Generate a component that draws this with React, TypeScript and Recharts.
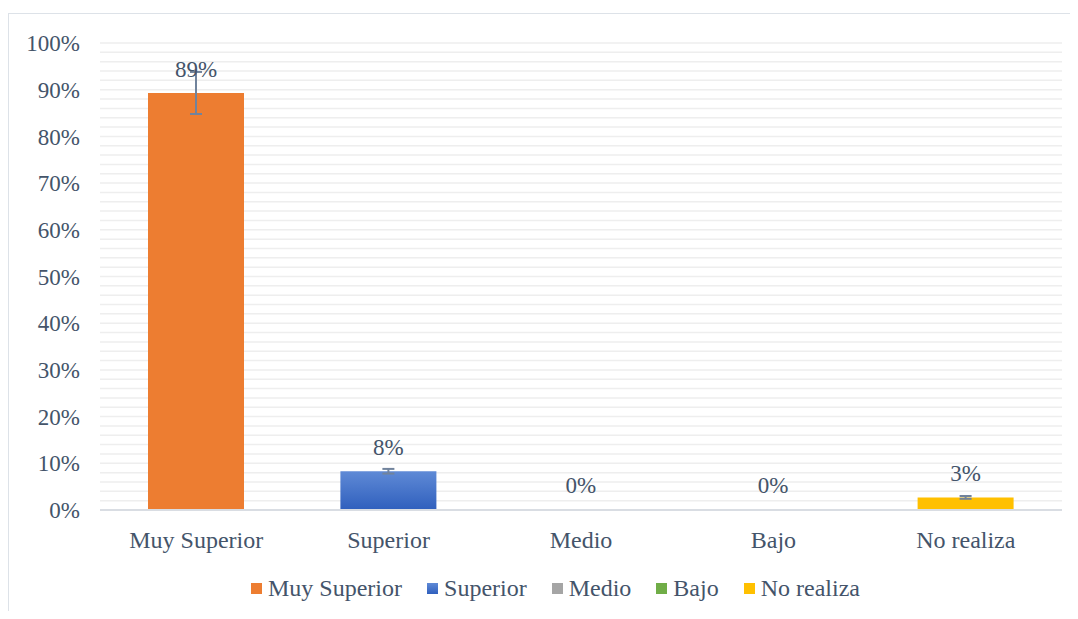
import { BarChart, Bar, Cell, XAxis, YAxis, CartesianGrid, LabelList, ErrorBar, Legend } from "recharts"

const categories = ["Muy Superior", "Superior", "Medio", "Bajo", "No realiza"]
const values = [89.3, 8.3, 0, 0, 2.7]
const errors = [4.5, 0.5, 0, 0, 0.3]
const colors = ["#ED7D31", "url(#blueGrad)", "#A5A5A5", "#70AD47", "#FFC000"]
const swatches = ["#ED7D31", "linear-gradient(#5f8ad6, #2f5fbd)", "#A5A5A5", "#70AD47", "#FFC000"]
const majorTicks = [0, 10, 20, 30, 40, 50, 60, 70, 80, 90, 100]
const gridTicks = [
  0, 2, 4, 6, 8, 10, 12, 14, 16, 18, 20, 22, 24, 26, 28, 30, 32, 34, 36, 38, 40, 42, 44, 46, 48, 50,
  52, 54, 56, 58, 60, 62, 64, 66, 68, 70, 72, 74, 76, 78, 80, 82, 84, 86, 88, 90, 92, 94, 96, 98, 100,
]

const data = categories.map((name, i) => ({ name, pct: values[i], err: [errors[i], errors[i]] }))

const TEXT = "#44546A"
const GRID = "#eeeeee"

function LegendContent() {
  return (
    <div
      style={{
        width: 1062,
        height: 24,
        paddingLeft: 33,
        boxSizing: "border-box",
        display: "flex",
        justifyContent: "center",
        alignItems: "center",
        gap: 25,
        fontSize: 24,
        color: TEXT,
      }}
    >
      {categories.map((c, i) => (
        <div key={c} style={{ display: "flex", alignItems: "center", gap: 6 }}>
          <span style={{ width: 11, height: 11, background: swatches[i], display: "inline-block" }} />
          <span style={{ lineHeight: "24px" }}>{c}</span>
        </div>
      ))}
    </div>
  )
}

export default function App() {
  return (
    <div style={{ position: "relative", width: 1062, height: 603, fontFamily: "serif" }}>
      <style>{`html, body { overflow: hidden; }`}</style>
      <div
        style={{
          position: "absolute",
          left: 0,
          top: 5,
          width: 1070,
          height: 620,
          borderTop: "1.5px solid #dde2e8",
          borderLeft: "1.5px solid #dde2e8",
          boxSizing: "border-box",
        }}
      />
      <BarChart
        width={1062}
        height={603}
        data={data}
        margin={{ top: 35, right: 8, left: 0, bottom: 11 }}
        barSize={96}
      >
        <defs>
          <linearGradient id="blueGrad" x1="0" y1="0" x2="0" y2="1">
            <stop offset="0%" stopColor="#5f8ad6" />
            <stop offset="100%" stopColor="#2f5fbd" />
          </linearGradient>
        </defs>
        <CartesianGrid vertical={false} stroke={GRID} strokeWidth={1.5} horizontalValues={gridTicks} />
        <XAxis
          dataKey="name"
          axisLine={{ stroke: "#d9dde3", strokeWidth: 2 }}
          tickLine={false}
          tickSize={0}
          tickMargin={21}
          height={66}
          interval={0}
          tick={{ fontSize: 24, fill: TEXT }}
        />
        <YAxis
          domain={[0, 100]}
          ticks={majorTicks}
          interval={0}
          tickFormatter={(v) => `${v}%`}
          axisLine={false}
          tickLine={false}
          tickSize={0}
          tickMargin={20}
          width={92}
          tick={{ fontSize: 23, fill: TEXT }}
        />
        <Legend verticalAlign="bottom" content={() => <LegendContent />} wrapperStyle={{ left: 0, width: 1062 }} />
        <Bar dataKey="pct" isAnimationActive={false} minPointSize={1}>
          {data.map((d, i) => (
            <Cell key={d.name} fill={colors[i]} />
          ))}
          <ErrorBar dataKey="err" direction="y" width={6} stroke="#71839c" strokeWidth={2} />
          <LabelList
            dataKey="pct"
            position="top"
            offset={16}
            formatter={(v: any) => `${Math.round(Number(v))}%`}
            style={{ fontSize: 23, fill: TEXT }}
          />
        </Bar>
      </BarChart>
    </div>
  )
}
